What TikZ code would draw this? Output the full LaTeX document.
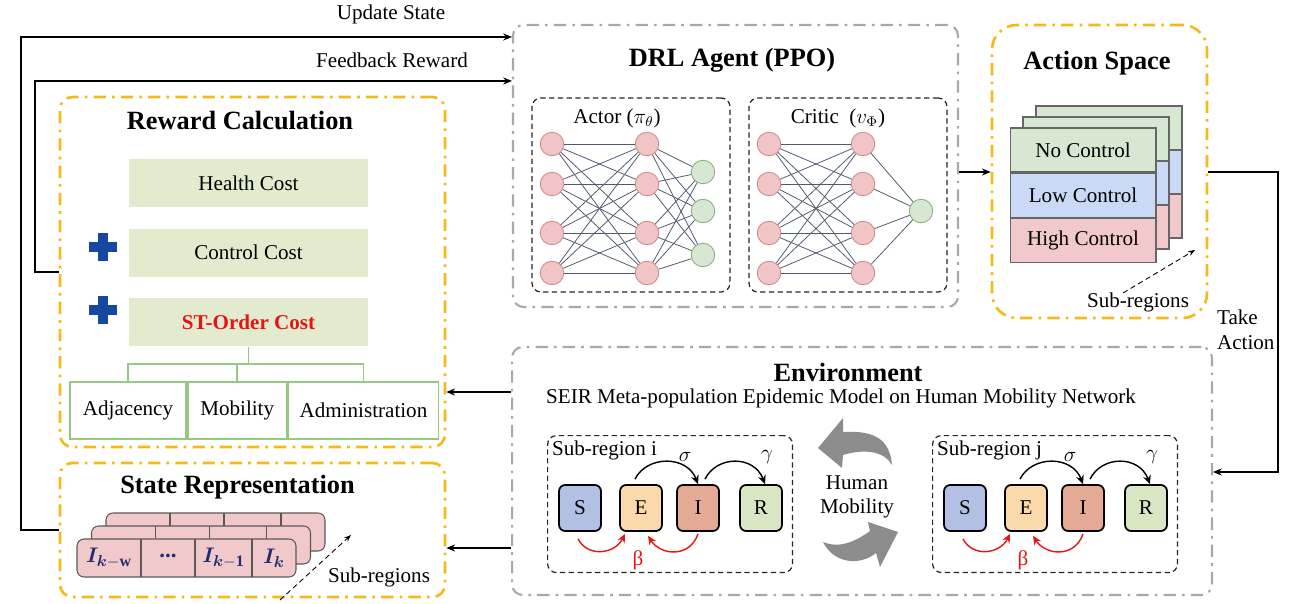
\documentclass[tikz,border=0pt]{standalone}
\usepackage{fontspec}
\setmainfont{Liberation Serif}
\usepackage{amsmath}
\usepackage{bm}
\usetikzlibrary{arrows.meta, positioning, calc}
\definecolor{rlgold}{RGB}{245,185,25}
\definecolor{rlgray}{RGB}{168,168,168}
\definecolor{rlcost}{RGB}{226,235,206}
\definecolor{rlleaf}{RGB}{150,200,130}
\definecolor{rlblue}{RGB}{22,72,160}
\definecolor{rlred}{RGB}{232,20,20}
\definecolor{rlpink}{RGB}{242,201,203}
\definecolor{rlnpink}{RGB}{241,196,198}
\definecolor{rlnedge}{RGB}{205,140,140}
\definecolor{rlgreen}{RGB}{214,232,210}
\definecolor{rlgedge}{RGB}{135,175,125}
\definecolor{rlsky}{RGB}{201,217,246}
\definecolor{rlS}{RGB}{178,192,228}
\definecolor{rlE}{RGB}{250,218,172}
\definecolor{rlI}{RGB}{228,170,150}
\definecolor{rlR}{RGB}{216,230,196}
\definecolor{rlnavy}{RGB}{30,44,112}
\definecolor{rlwire}{RGB}{80,90,110}
\definecolor{rlmob}{RGB}{140,140,140}
\newcommand{\rlbody}{\fontsize{12}{14}\selectfont}
\newcommand{\rlhead}{\fontsize{15}{18}\selectfont\bfseries}
\tikzset{
  rl frame/.style={
    rectangle, draw=rlgold, line width=1.5pt, rounded corners=7pt,
    dash pattern=on 7pt off 3.5pt on 1.5pt off 3.5pt, inner sep=0pt
  },
  rl gframe/.style={
    rl frame, draw=rlgray, line width=1.2pt, rounded corners=6pt
  },
  rl head/.style={
    font=\rlhead, inner sep=1pt
  },
  rl label/.style={
    font=\rlbody, inner sep=1pt
  },
  rl cost/.style={
    rectangle, fill=rlcost, minimum width=4.8cm, minimum height=0.96cm,
    font=\rlbody, inner sep=0pt
  },
  rl leaf/.style={
    rectangle, draw=rlleaf, line width=1pt, fill=white,
    minimum height=1.14cm, font=\rlbody, inner sep=0pt
  },
  rl tree/.style={
    draw=rlleaf, line width=1pt
  },
  rl row/.style={
    rectangle, draw=black!65, fill=rlpink, rounded corners=4pt, line width=0.6pt
  },
  rl state/.style={
    font=\fontsize{13}{15}\selectfont, text=rlnavy, inner sep=1pt
  },
  rl net/.style={
    rectangle, draw=black!85, densely dashed, line width=0.7pt,
    rounded corners=5pt, inner sep=0pt
  },
  rl neuron/.style={
    circle, draw=rlnedge, fill=rlnpink, minimum size=0.47cm,
    inner sep=0pt, line width=0.5pt
  },
  rl out/.style={
    rl neuron, draw=rlgedge, fill=rlgreen
  },
  rl link/.style={
    draw=rlwire, line width=0.45pt
  },
  rl card/.style={
    rectangle, draw=black!60, line width=0.6pt, minimum width=2.92cm,
    minimum height=0.88cm, inner sep=0pt, font=\rlbody
  },
  rl comp/.style={
    rectangle, draw=black, line width=1pt, rounded corners=3.5pt,
    minimum width=0.84cm, minimum height=0.92cm, inner sep=0pt, font=\rlbody
  },
  rl arrow/.style={
    -{Stealth[length=5pt,width=4pt]}, line width=0.8pt, draw=black
  },
  rl flow/.style={
    -{Stealth[length=5pt,width=4.5pt]}, line width=0.8pt, draw=black
  },
  rl beta/.style={
    rl flow, draw=rlred
  },
  rl hint/.style={
    -{Stealth[length=4pt,width=3pt]}, densely dashed, line width=0.5pt
  }
}

\begin{document}
\begin{tikzpicture}[x=0.02cm, y=-0.02cm, node distance=0.42cm]
  \useasboundingbox (0,0) rectangle (1304,604);

  \node (rew) [rl frame, minimum width=7.7cm, minimum height=7cm] at (252.5,272) {};
  \node (st) [rl frame, minimum width=7.7cm, minimum height=2.68cm] at (252.5,530) {};
  \node (drl) [rl gframe, minimum width=8.9cm, minimum height=5.64cm] at (735.5,166) {};
  \node (act) [rl frame, rounded corners=14pt, minimum width=4.3cm, minimum height=5.86cm] at (1099.5,171.5) {};
  \node (env) [rl gframe, minimum width=14cm, minimum height=4.96cm] at (862,471) {};

  \node (rewt) [rl head] at (240,121) {Reward Calculation};
  \node (stt) [rl head] at (237.5,487) {State Representation};
  \node (drlt) [rl head] at (732,60) {DRL Agent (PPO)};
  \node (actt) [rl head] at (1097,63) {Action Space};
  \node (envt) [rl head] at (848,372) {Environment};
  \node (envs) [rl label] at (841,398) {SEIR Meta-population Epidemic Model on Human Mobility Network};

  \node (hc) [rl cost] at (248.5,183) {Health Cost};
  \node (cc) [rl cost, below=of hc] {Control Cost};
  \node (sc) [rl cost, below=of cc, text=rlred, font=\rlbody\bfseries] {ST-Order Cost};
  \foreach \py in {247,310} {
    \fill[rlblue] (89,\py-5) rectangle (117,\py+5);
    \fill[rlblue] (98,\py-14) rectangle (108,\py+14);
  }
  \node (adj) [rl leaf, minimum width=2.32cm] at (128,410.5) {Adjacency};
  \node (mob) [rl leaf, minimum width=1.98cm, right=0cm of adj] {Mobility};
  \node (adm) [rl leaf, minimum width=3cm, right=0cm of mob] {Administration};
  \coordinate (fork) at (248.5,364);
  \draw [rl tree] (sc.south) -- (fork) (fork) -| (adj.north) (fork) -| (mob.north) (fork) -| (adm.north);

  \foreach \d in {2,1} {
    \draw [rl row] (77+14.5*\d,539-13*\d) rectangle +(219,38);
    \foreach \c in {141,195,252}
      \draw [draw=black!65, line width=0.6pt] (\c+14.5*\d,539-13*\d) -- +(0,38);
  }
  \node (row) [rl row, minimum width=4.38cm, minimum height=0.76cm] at (186.5,558) {};
  \foreach \c in {141,195,252}
    \draw [draw=black!65, line width=0.6pt] (\c,539) -- (\c,577);
  \node (ikw) [rl state] at (109,558) {$\bm{I}_{\bm{k}-\mathbf{w}}$};
  \node (idots) [rl state] at (168,556) {\textbf{...}};
  \node (ik1) [rl state] at (223.5,558) {$\bm{I}_{\bm{k}-\mathbf{1}}$};
  \node (ik) [rl state] at (274,558) {$\bm{I}_{\bm{k}}$};
  \coordinate (sr0) at (280,600);
  \coordinate (sr1) at (351,535);
  \draw [rl hint] (sr0) -- (sr1);
  \node (srl) [rl label] at (379,577) {Sub-regions};

  \node (actor) [rl net, minimum width=3.96cm, minimum height=3.88cm] at (631,195) {};
  \node (critic) [rl net, minimum width=3.96cm, minimum height=3.88cm] at (848,195) {};
  \node (actorl) [rl label] at (617,118) {Actor ($\pi_{\theta}$)};
  \node (criticl) [rl label] at (838,118) {Critic~~($v_{\Phi}$)};
  \foreach \ny [count=\i] in {144,184,233,273} {
    \node (ain\i) [rl neuron] at (552,\ny) {};
    \node (ahid\i) [rl neuron] at (647,\ny) {};
    \node (cin\i) [rl neuron] at (769,\ny) {};
    \node (chid\i) [rl neuron] at (863,\ny) {};
  }
  \foreach \ny [count=\i] in {172,211,255}
    \node (aout\i) [rl out] at (703,\ny) {};
  \node (cout) [rl out] at (921,211) {};
  \foreach \i in {1,...,4} {
    \foreach \j in {1,...,4} {
      \draw [rl link] (ain\i) -- (ahid\j);
      \draw [rl link] (cin\i) -- (chid\j);
    }
    \foreach \j in {1,2,3}
      \draw [rl link] (ahid\i) -- (aout\j);
    \draw [rl link] (chid\i) -- (cout);
  }

  \foreach \d in {2,1} {
    \draw [rl card, fill=rlgreen] (1010+13*\d,128-11*\d) rectangle +(146,44);
    \draw [rl card, fill=rlsky] (1010+13*\d,172-11*\d) rectangle +(146,44);
    \draw [rl card, fill=rlpink] (1010+13*\d,216-11*\d) rectangle +(146,44);
  }
  \node (noc) [rl card, fill=rlgreen] at (1083,150) {No Control};
  \node (lowc) [rl card, fill=rlsky, below=0cm of noc] {Low Control};
  \node (highc) [rl card, fill=rlpink, below=0cm of lowc] {High Control};
  \coordinate (sa0) at (1123,293);
  \coordinate (sa1) at (1195,250);
  \draw [rl hint] (sa0) -- (sa1);
  \node (sal) [rl label] at (1138,302) {Sub-regions};

  \foreach \rg/\x in {i/547, j/932} {
    \node (box\rg) [rl net, minimum width=4.9cm, minimum height=2.74cm, anchor=north west] at (\x,435) {};
    \node (lab\rg) [rl label, anchor=west] at (\x+3,450) {Sub-region \rg};
    \node (S\rg) [rl comp, fill=rlS] at (\x+33,508) {S};
    \node (E\rg) [rl comp, fill=rlE] at (\x+94,508) {E};
    \node (I\rg) [rl comp, fill=rlI] at (\x+151,508) {I};
    \node (R\rg) [rl comp, fill=rlR] at (\x+214,508) {R};
    \draw [rl flow] ($(E\rg.north)+(-6,-5)$) .. controls ($(E\rg.north)+(6,-29)$) and ($(I\rg.north)+(-11,-29)$) .. (I\rg.north);
    \draw [rl flow] ($(I\rg.north)+(7,-5)$) .. controls ($(I\rg.north)+(19,-29)$) and ($(R\rg.north)+(-7,-29)$) .. ($(R\rg.north)+(4,0)$);
    \node (sig\rg) [rl label] at (\x+138,457) {$\sigma$};
    \node (gam\rg) [rl label] at (\x+220,457) {$\gamma$};
    \draw [rl beta] ($(S\rg.south)+(-2,7)$) .. controls ($(S\rg.south)+(8,26)$) and ($(E\rg.south)+(-26,22)$) .. ($(E\rg.south)+(-16,2)$);
    \draw [rl beta] ($(I\rg.south)+(0,2)$) .. controls ($(I\rg.south)+(-8,26)$) and ($(E\rg.south)+(20,24)$) .. ($(E\rg.south)+(7,4)$);
    \node (beta\rg) [rl label, text=rlred] at (\x+91,560) {β};
  }
  \node (hm) [rl label, align=center] at (857,497) {Human\\Mobility};
  \fill [rlmob] (892,465) .. controls (890,440) and (875,430) .. (843,432) -- (843,418) -- (818,448)
    -- (842,468) -- (843,455) .. controls (866,448) and (885,452) .. (892,465) -- cycle;
  \fill [rlmob] (823,542) .. controls (840,549) and (856,541) .. (870,531) -- (868,522) -- (898,532)
    -- (880,567) -- (876,553) .. controls (860,566) and (834,564) .. (823,542) -- cycle;

  \coordinate (us) at (21,37);
  \coordinate (fb) at (35,81);
  \coordinate (ea) at (0,392);
  \coordinate (eb) at (0,548);
  \coordinate (da) at (0,172);
  \coordinate (tk) at (1278,472);
  \draw [rl arrow] (st.west) -| (us) -- (drl.west |- us);
  \draw [rl arrow] (rew.west) -| (fb) -- (drl.west |- fb);
  \node (usl) [rl label] at (391,14) {Update State};
  \node (fbl) [rl label] at (392,60) {Feedback Reward};
  \draw [rl arrow] (env.west |- ea) -- (rew.east |- ea);
  \draw [rl arrow] (env.west |- eb) -- (st.east |- eb);
  \draw [rl arrow] (drl.east |- da) -- (act.west |- da);
  \draw [rl arrow] (act.east |- da) -| (tk) -- (env.east |- tk);
  \node (tkl) [rl label, anchor=west, align=left] at (1215,330) {Take\\Action};
\end{tikzpicture}
\end{document}
